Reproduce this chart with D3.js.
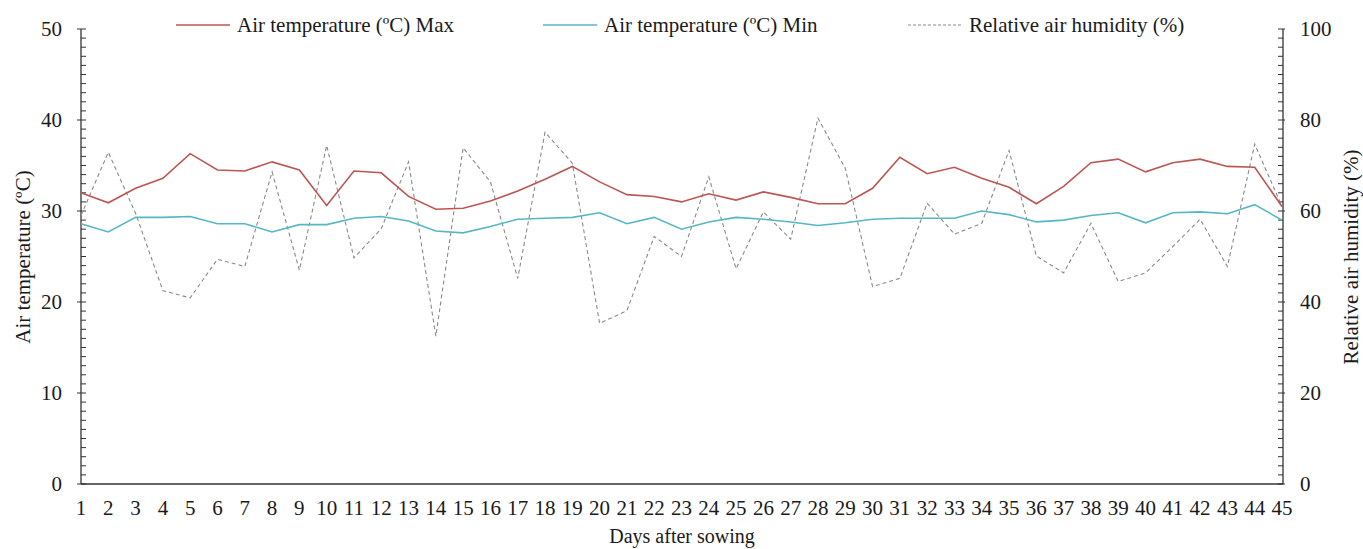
<!DOCTYPE html>
<html>
<head>
<meta charset="utf-8">
<script src="https://cdn.jsdelivr.net/npm/d3@7"></script>
<style>
  body { margin: 0; background: #fff; }
  svg text { font-family: "Liberation Serif", "Times New Roman", serif; fill: #1a1a1a; }
</style>
</head>
<body>
<svg id="chart" width="1363" height="549"></svg>
<script>
// days after sowing
const days = d3.range(1, 46);

const tempMax = [32.0, 30.9, 32.5, 33.6, 36.3, 34.5, 34.4, 35.4, 34.5, 30.6,
  34.4, 34.2, 31.6, 30.2, 30.3, 31.1, 32.2, 33.5, 34.9, 33.2,
  31.8, 31.6, 31.0, 31.9, 31.2, 32.1, 31.5, 30.8, 30.8, 32.5,
  35.9, 34.1, 34.8, 33.6, 32.6, 30.8, 32.7, 35.3, 35.7, 34.3,
  35.3, 35.7, 34.9, 34.8, 30.5];

const tempMin = [28.6, 27.7, 29.3, 29.3, 29.4, 28.6, 28.6, 27.7, 28.5, 28.5,
  29.2, 29.4, 28.9, 27.8, 27.6, 28.3, 29.1, 29.2, 29.3, 29.8,
  28.6, 29.3, 28.0, 28.8, 29.3, 29.1, 28.8, 28.4, 28.7, 29.1,
  29.2, 29.2, 29.2, 30.0, 29.6, 28.8, 29.0, 29.5, 29.8, 28.7,
  29.8, 29.9, 29.7, 30.7, 29.0];

const humidity = [59.0, 72.9, 59.5, 42.5, 40.9, 49.4, 47.8, 68.6, 47.0, 74.4,
  49.7, 56.1, 70.8, 32.5, 73.9, 66.4, 45.2, 77.3, 70.5, 35.3,
  38.1, 54.4, 50.0, 67.5, 47.3, 59.8, 53.8, 80.4, 69.4, 43.4,
  45.2, 61.7, 54.9, 57.3, 73.3, 50.1, 46.4, 57.3, 44.5, 46.4,
  52.2, 58.2, 47.8, 74.7, 61.0];

const tempTicks = [0, 10, 20, 30, 40, 50];
const humTicks = [0, 20, 40, 60, 80, 100];

const legendLabels = ['Air temperature (ºC) Max', 'Air temperature (ºC) Min', 'Relative air humidity (%)'];

const colors = { max: '#bc5652', min: '#55b7c6', hum: '#8a8a8a', axis: '#333' };

const svg = d3.select('#chart');
const plotL = 81, plotR = 1283, plotT = 29, plotB = 484;

const x = d3.scalePoint().domain(days).range([plotL, plotR - 1]);
const yT = d3.scaleLinear().domain([0, 50]).range([plotB, plotT]);
const yH = d3.scaleLinear().domain([0, 100]).range([plotB, plotT]);

// left axis: major ticks cross the line, minor ticks point inward
const gl = svg.append('g').attr('transform', 'translate(' + plotL + ',0)');
gl.append('line').attr('y1', plotT).attr('y2', plotB).attr('stroke', colors.axis).attr('stroke-width', 1.3);
gl.selectAll('line.minor').data(d3.range(0, 51)).enter().append('line')
  .attr('class', 'minor')
  .attr('x1', d => tempTicks.includes(d) ? -4 : 0).attr('x2', 5)
  .attr('y1', d => yT(d)).attr('y2', d => yT(d))
  .attr('stroke', colors.axis).attr('stroke-width', 1);
gl.selectAll('text').data(tempTicks).enter().append('text')
  .attr('x', -19).attr('y', d => yT(d)).attr('dy', '0.35em')
  .attr('text-anchor', 'end').style('font-size', '21px')
  .text(d => d);

// right axis
const gr = svg.append('g').attr('transform', 'translate(' + plotR + ',0)');
gr.append('line').attr('y1', plotT).attr('y2', plotB).attr('stroke', colors.axis).attr('stroke-width', 1.3);
gr.selectAll('line.minor').data(d3.range(0, 101, 2)).enter().append('line')
  .attr('class', 'minor')
  .attr('x1', -5).attr('x2', d => humTicks.includes(d) ? 2 : 0)
  .attr('y1', d => yH(d)).attr('y2', d => yH(d))
  .attr('stroke', colors.axis).attr('stroke-width', 1);
gr.selectAll('text').data(humTicks).enter().append('text')
  .attr('x', 17).attr('y', d => yH(d)).attr('dy', '0.35em')
  .attr('text-anchor', 'start').style('font-size', '21px')
  .text(d => d);

// bottom axis, labels only
svg.append('line').attr('x1', plotL).attr('x2', plotR).attr('y1', plotB).attr('y2', plotB)
  .attr('stroke', colors.axis).attr('stroke-width', 1.5);
svg.append('g').selectAll('text').data(days).enter().append('text')
  .attr('x', d => x(d)).attr('y', 515)
  .attr('text-anchor', 'middle').style('font-size', '21px')
  .text(d => d);

// axis titles
svg.append('text').attr('transform', 'translate(30,257) rotate(-90)')
  .attr('text-anchor', 'middle').style('font-size', '21px').text('Air temperature (ºC)');
svg.append('text').attr('transform', 'translate(1358,257) rotate(-90)')
  .attr('text-anchor', 'middle').style('font-size', '21px').text('Relative air humidity (%)');
svg.append('text').attr('x', 682).attr('y', 543)
  .attr('text-anchor', 'middle').style('font-size', '20px').text('Days after sowing');

// series
const lineT = vals => d3.line().x((d, i) => x(days[i])).y(d => yT(d))(vals);
const lineH = d3.line().x((d, i) => x(days[i])).y(d => yH(d));

svg.append('path').attr('d', lineH(humidity)).attr('fill', 'none')
  .attr('stroke', colors.hum).attr('stroke-width', 1.1).attr('stroke-dasharray', '4,3');
svg.append('path').attr('d', lineT(tempMin)).attr('fill', 'none')
  .attr('stroke', colors.min).attr('stroke-width', 1.6);
svg.append('path').attr('d', lineT(tempMax)).attr('fill', 'none')
  .attr('stroke', colors.max).attr('stroke-width', 1.6);

// legend
const legendItems = [
  { label: legendLabels[0], x: 176, color: colors.max, dash: null, w: 1.6 },
  { label: legendLabels[1], x: 543, color: colors.min, dash: null, w: 1.6 },
  { label: legendLabels[2], x: 908, color: colors.hum, dash: '3,2', w: 1.1 }
];
const lg = svg.append('g').selectAll('g').data(legendItems).enter().append('g')
  .attr('transform', d => 'translate(' + d.x + ',25)');
lg.append('line').attr('x1', 0).attr('x2', 54)
  .attr('stroke', d => d.color).attr('stroke-width', d => d.w)
  .attr('stroke-dasharray', d => d.dash);
lg.append('text').attr('x', 61).attr('dy', '0.35em').style('font-size', '21px')
  .text(d => d.label);
</script>
</body>
</html>
